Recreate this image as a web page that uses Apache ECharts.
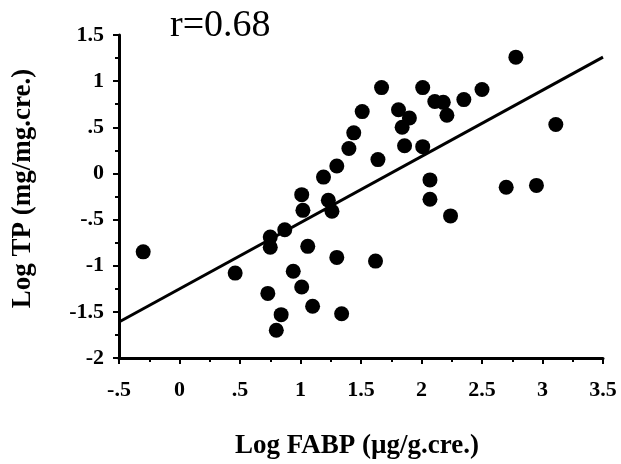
<!DOCTYPE html>
<html>
<head>
<meta charset="utf-8">
<script src="https://cdn.jsdelivr.net/npm/echarts@6/dist/echarts.min.js"></script>
<style>
  html, body { margin: 0; padding: 0; background: #fff; }
  #chart { width: 621px; height: 464px; }
</style>
</head>
<body>
<div id="chart"></div>
<script>
// Log FABP (x) vs Log TP (y)
const fabp = [-0.30, 0.46, 0.73, 0.80, 0.84, 0.75, 0.75, 0.87, 0.94, 1.01,
  1.01, 1.02, 1.06, 1.10, 1.19, 1.23, 1.26, 1.30, 1.30, 1.34,
  1.40, 1.44, 1.51, 1.62, 1.64, 1.67, 1.81, 1.90, 1.84, 1.86,
  2.01, 2.01, 2.07, 2.07, 2.11, 2.18, 2.21, 2.24, 2.35, 2.50,
  2.70, 2.78, 2.95, 3.11];
const tp = [-0.85, -1.08, -1.30, -1.70, -1.53, -0.69, -0.80, -0.61, -1.06, -1.23,
  -0.23, -0.40, -0.79, -1.44, -0.04, -0.29, -0.41, 0.08, -0.91, -1.52,
  0.27, 0.44, 0.67, -0.95, 0.15, 0.93, 0.69, 0.60, 0.50, 0.30,
  0.29, 0.93, -0.07, -0.28, 0.78, 0.77, 0.63, -0.46, 0.80, 0.91,
  -0.15, 1.26, -0.13, 0.53];

// regression line end points
const fitX = [-0.5, 3.5];
const fitY = [-1.61, 1.26];

const xTickValues = [-0.5, 0, 0.5, 1, 1.5, 2, 2.5, 3, 3.5];
const xTickLabels = ["-.5", "0", ".5", "1", "1.5", "2", "2.5", "3", "3.5"];
const yTickValues = [-2, -1.5, -1, -0.5, 0, 0.5, 1, 1.5];
const yTickLabels = ["-2", "-1.5", "-1", "-.5", "0", ".5", "1", "1.5"];

function tickLabel(values, labels) {
  return function (v) {
    for (let i = 0; i < values.length; i++) {
      if (Math.abs(values[i] - v) < 1e-6) return labels[i];
    }
    return "";
  };
}

const serif = "Liberation Serif";

const chart = echarts.init(document.getElementById("chart"));
chart.setOption({
  backgroundColor: "#ffffff",
  animation: false,
  title: {
    text: "r=0.68",
    left: 165,
    top: 2,
    textStyle: {
      fontFamily: serif,
      fontWeight: "normal",
      fontSize: 38,
      color: "#000"
    }
  },
  grid: {
    left: 119,
    right: 18,
    top: 35,
    bottom: 106,
    outerBoundsMode: "none"
  },
  xAxis: {
    type: "value",
    min: -0.5,
    max: 3.5,
    interval: 0.5,
    name: "Log FABP (\u00b5g/g.cre.)",
    nameLocation: "middle",
    nameGap: 75,
    nameTextStyle: {
      fontFamily: serif,
      fontWeight: "bold",
      fontSize: 27,
      color: "#000",
      padding: [0, 8, 0, 0]
    },
    axisLine: { onZero: false, lineStyle: { color: "#000", width: 3 } },
    axisTick: { length: 6, lineStyle: { color: "#000", width: 2 } },
    minorTick: { show: true, splitNumber: 2, length: 4, lineStyle: { color: "#000", width: 2 } },
    splitLine: { show: false },
    axisLabel: {
      margin: 21,
      fontFamily: serif,
      fontWeight: "bold",
      fontSize: 22,
      color: "#000",
      formatter: tickLabel(xTickValues, xTickLabels)
    }
  },
  yAxis: {
    type: "value",
    min: -2,
    max: 1.5,
    interval: 0.5,
    name: "Log TP (mg/mg.cre.)",
    nameLocation: "middle",
    nameGap: 82,
    nameTextStyle: {
      fontFamily: serif,
      fontWeight: "bold",
      fontSize: 27,
      color: "#000",
      padding: [0, 0, 0, 16]
    },
    axisLine: { show: true, onZero: false, lineStyle: { color: "#000", width: 3 } },
    axisTick: { show: true, length: 6, lineStyle: { color: "#000", width: 2 } },
    minorTick: { show: true, splitNumber: 2, length: 4, lineStyle: { color: "#000", width: 2 } },
    splitLine: { show: false },
    axisLabel: {
      margin: 15,
      fontFamily: serif,
      fontWeight: "bold",
      fontSize: 22,
      color: "#000",
      formatter: tickLabel(yTickValues, yTickLabels)
    }
  },
  series: [
    {
      type: "line",
      data: fitX.map((x, i) => [x, fitY[i]]),
      showSymbol: false,
      symbol: "none",
      lineStyle: { color: "#000", width: 3 },
      z: 2
    },
    {
      type: "scatter",
      data: fabp.map((x, i) => [x, tp[i]]),
      symbol: "circle",
      symbolSize: 15,
      itemStyle: { color: "#000", opacity: 1 },
      z: 3
    }
  ]
});
</script>
</body>
</html>
